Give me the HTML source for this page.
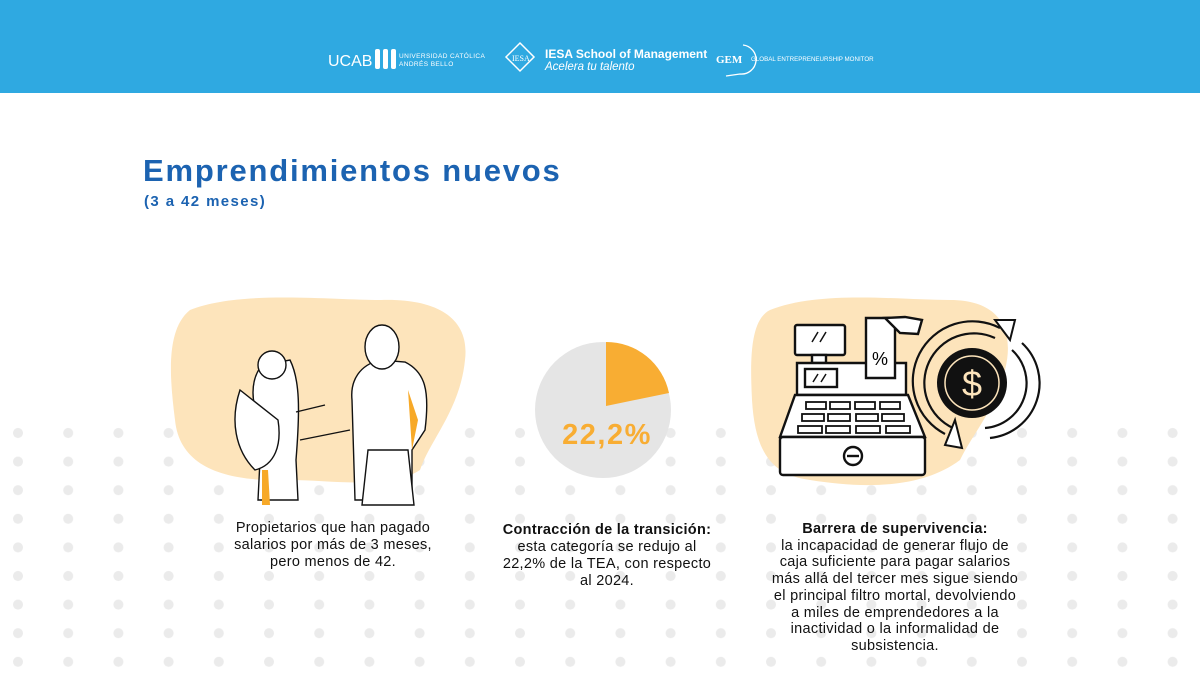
<!DOCTYPE html>
<html><head><meta charset="utf-8"><style>
body{margin:0;width:1200px;height:675px;overflow:hidden;background:#fff;font-family:"Liberation Sans",sans-serif;position:relative}
.hdr{position:absolute;left:0;top:0;width:1200px;height:93px;background:#2fa9e1}
.t{position:absolute;color:#1c63b1;font-weight:bold;white-space:nowrap}
.cap{position:absolute;text-align:center;font-size:14.5px;line-height:17px;color:#111;letter-spacing:0.3px;white-space:nowrap}
</style></head><body>
<div class="hdr">
<svg width="1200" height="93" style="position:absolute;left:0;top:0">
<g fill="#fff" font-family="Liberation Sans">
<text x="328" y="66" font-size="16" >UCAB</text>
<rect x="375" y="49" width="5" height="20" rx="2"/><rect x="383" y="49" width="5" height="20" rx="2"/><rect x="391" y="49" width="5" height="20" rx="2"/>
<text x="399" y="58" font-size="6.5" letter-spacing="0.4">UNIVERSIDAD CATÓLICA</text>
<text x="399" y="66" font-size="6.5" letter-spacing="0.4">ANDRÉS BELLO</text>
<path d="M520 43 L534 57 L520 71 L506 57Z" fill="none" stroke="#fff" stroke-width="1.5"/>
<text x="512" y="61" font-size="8" font-family="Liberation Serif">IESA</text>
<text x="545" y="58" font-size="12" font-weight="bold">IESA School of Management</text>
<text x="545" y="70" font-size="11.5" font-style="italic">Acelera tu talento</text>
<text x="716" y="63" font-size="11" font-weight="bold" font-family="Liberation Serif">GEM</text>
<path d="M743 45 A14 14 0 0 1 740 74 L726 76" fill="none" stroke="#fff" stroke-width="1.3"/>
<text x="751" y="61" font-size="6.2">GLOBAL ENTREPRENEURSHIP MONITOR</text>
</g></svg>
</div>
<div class="t" style="left:143px;top:153px;font-size:31px;letter-spacing:1.8px">Emprendimientos nuevos</div>
<div class="t" style="left:144px;top:193px;font-size:15px;letter-spacing:1.4px">(3 a 42 meses)</div>
<svg width="1200" height="582" style="position:absolute;left:0;top:93px" viewBox="0 93 1200 582">
<defs><pattern id="d" x="18" y="433" width="50.2" height="28.6" patternUnits="userSpaceOnUse"><circle cx="0" cy="0" r="5" fill="#ebebeb"/><circle cx="50.2" cy="0" r="5" fill="#ebebeb"/><circle cx="0" cy="28.6" r="5" fill="#ebebeb"/><circle cx="50.2" cy="28.6" r="5" fill="#ebebeb"/></pattern></defs>
<rect x="0" y="427" width="1200" height="245" fill="url(#d)"/>
<path d="M190 310 C240 290 330 300 380 300 C440 298 470 320 465 360 C460 410 430 440 420 470 C390 490 330 480 290 480 C230 482 180 470 175 420 C170 380 165 330 190 310Z" fill="#fde4bb"/>
<g fill="#fff" stroke="#111" stroke-width="1.4">
<path d="M258 500 L262 420 C250 405 250 380 262 365 L290 360 C300 380 300 410 296 460 L298 500Z"/>
<circle cx="272" cy="365" r="14"/>
<path d="M240 390 C230 420 235 450 255 470 C275 465 282 445 278 420 Z" fill="#fff"/>
<path d="M355 500 L352 400 C350 380 360 365 380 360 L405 362 C425 372 430 390 425 430 L412 450 L412 500Z"/>
<ellipse cx="382" cy="347" rx="17" ry="22"/>
<path d="M368 450 L408 450 L414 505 L362 505Z" fill="#fff"/>
<path d="M296 412 L325 405 M300 440 L350 430"/>
</g>
<path d="M262 470 L262 505 L270 505 L268 470Z M408 390 L412 450 L418 420Z" fill="#f7a928"/>
<circle cx="603" cy="410" r="68" fill="#e5e5e5"/>
<path d="M606 406 L606 342 A64 64 0 0 1 669 393 Z" fill="#f8ad33"/>
<text x="607" y="444" text-anchor="middle" font-size="29" font-weight="bold" letter-spacing="1.5" fill="#f8ad33" font-family="Liberation Sans">22,2%</text>
<path d="M770 310 C820 290 900 300 950 300 C1000 300 1015 330 1005 370 C995 410 975 430 960 460 C920 490 860 488 810 480 C770 475 755 450 752 400 C750 360 750 320 770 310Z" fill="#fde4bb"/>
<g stroke="#111" stroke-width="2.4" fill="#fff">
<rect x="795" y="325" width="50" height="30" rx="2"/>
<rect x="812" y="355" width="14" height="8"/>
<path d="M797 363 L906 363 L906 395 L797 395Z"/>
<rect x="805" y="369" width="32" height="18"/>
<path d="M866 318 L895 318 L895 378 L866 378Z"/>
<path d="M885 318 L905 317 L922 320 L918 334 L900 333 Z"/>
<path d="M795 395 L908 395 L925 437 L780 437Z"/>
<rect x="780" y="437" width="145" height="38" rx="3"/>
<circle cx="853" cy="456" r="9"/>
<path d="M847 456 L859 456"/>
</g>
<g stroke="#111" stroke-width="1.5"><path d="M812 342 L818 332 M820 342 L826 332 M813 382 L818 374 M821 382 L826 374"/></g>
<text x="872" y="365" font-size="18" font-family="Liberation Sans">%</text>
<g stroke="#111" stroke-width="1.8" fill="#fff">
<rect x="806" y="402" width="20" height="7"/><rect x="830" y="402" width="20" height="7"/><rect x="855" y="402" width="20" height="7"/><rect x="880" y="402" width="20" height="7"/>
<rect x="802" y="414" width="22" height="7"/><rect x="828" y="414" width="22" height="7"/><rect x="856" y="414" width="22" height="7"/><rect x="882" y="414" width="22" height="7"/>
<rect x="798" y="426" width="24" height="7"/><rect x="826" y="426" width="24" height="7"/><rect x="856" y="426" width="24" height="7"/><rect x="886" y="426" width="24" height="7"/>
</g>
<g fill="none" stroke="#111" stroke-width="2.2">
<path d="M945 434 A55 55 0 0 1 1000 328"/>
<path d="M953 428 A45 45 0 0 1 995 338"/>
<path d="M1022 343 A55 55 0 0 1 990 438"/>
<path d="M1012 350 A45 45 0 0 1 985 428"/>
</g>
<path d="M995 320 L1015 320 L1010 340Z M955 420 L945 445 L962 448Z" fill="#fff" stroke="#111" stroke-width="2"/>
<circle cx="972" cy="383" r="35" fill="#111"/>
<circle cx="972" cy="383" r="27" fill="none" stroke="#fde4bb" stroke-width="1.5"/>
<text x="972" y="396" text-anchor="middle" font-size="36" fill="#fde4bb" font-family="Liberation Sans">$</text>
</svg>
<div class="cap" style="left:183px;top:520px;width:300px">Propietarios que han pagado<br>salarios por más de 3 meses,<br>pero menos de 42.</div>
<div class="cap" style="left:457px;top:522px;width:300px"><b>Contracción de la transición:</b><br>esta categoría se redujo al<br>22,2% de la TEA, con respecto<br>al 2024.</div>
<div class="cap" style="left:745px;top:521px;width:300px;line-height:16.7px"><b>Barrera de supervivencia:</b><br>la incapacidad de generar flujo de<br>caja suficiente para pagar salarios<br>más allá del tercer mes sigue siendo<br>el principal filtro mortal, devolviendo<br>a miles de emprendedores a la<br>inactividad o la informalidad de<br>subsistencia.</div>
</body></html>
